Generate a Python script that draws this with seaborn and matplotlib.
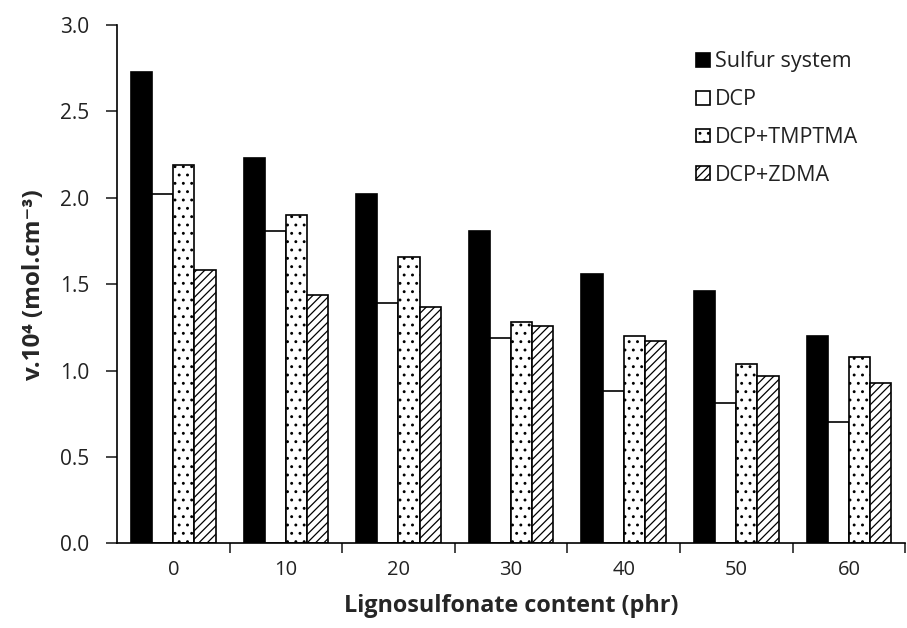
import matplotlib
matplotlib.use("Agg")
import matplotlib.pyplot as plt
import seaborn as sns
import pandas as pd

categories = ["0", "10", "20", "30", "40", "50", "60"]
series = ["Sulfur system", "DCP", "DCP+TMPTMA", "DCP+ZDMA"]
sulfur = [2.73, 2.23, 2.02, 1.81, 1.56, 1.46, 1.20]
dcp = [2.02, 1.81, 1.39, 1.19, 0.88, 0.81, 0.70]
tmptma = [2.19, 1.90, 1.66, 1.28, 1.20, 1.04, 1.08]
zdma = [1.58, 1.44, 1.37, 1.26, 1.17, 0.97, 0.93]
yticks = [0.0, 0.5, 1.0, 1.5, 2.0, 2.5, 3.0]

rows = []
for name, vals in zip(series, [sulfur, dcp, tmptma, zdma]):
    for c, v in zip(categories, vals):
        rows.append({"content": c, "series": name, "value": v})
df = pd.DataFrame(rows)

sns.set_style("white")
plt.rcParams['font.family'] = ['Open Sans', 'DejaVu Sans']
plt.rcParams['hatch.linewidth'] = 0.9

fig = plt.figure(figsize=(9.07, 6.28), dpi=100)
ax = fig.add_axes([0.129, 0.135, 0.869, 0.825])

sns.barplot(data=df, x="content", y="value", hue="series", order=categories,
            hue_order=series, width=0.75, ax=ax, legend=False, saturation=1,
            edgecolor="black", linewidth=1.2)

faces = ["black", "white", "white", "white"]
hatches = [None, None, "..", "////"]
for cont, fc, h in zip(ax.containers, faces, hatches):
    for p in cont:
        p.set_facecolor(fc)
        p.set_edgecolor("black")
        p.set_linewidth(1.2)
        if h:
            p.set_hatch(h)

ax.set_ylim(0, 3.0)
ax.set_xlim(-0.5, len(categories) - 0.5)
ax.set_yticks(yticks)
ax.set_yticklabels([f"{t:.1f}" for t in yticks], fontsize=15, color="#222222")
ax.set_xticks(range(len(categories)))
ax.set_xticklabels(categories, fontsize=14.5, color="#222222")
ax.tick_params(axis="x", length=0, pad=12)
ax.set_xticks([i + 0.5 for i in range(len(categories))], minor=True)
ax.tick_params(axis="x", which="minor", length=7, width=1.2, direction="out", bottom=True)
ax.tick_params(axis="y", length=8, width=1.2, direction="out", left=True, pad=12)

for s in ["top", "right"]:
    ax.spines[s].set_visible(False)
for s in ["left", "bottom"]:
    ax.spines[s].set_color("black")
    ax.spines[s].set_linewidth(1.2)

ax.set_xlabel("Lignosulfonate content (phr)", fontsize=16.8, fontweight="bold", labelpad=10)
ax.set_ylabel("v.10⁴ (mol.cm⁻³)", fontsize=17.5, fontweight="bold", labelpad=10)

leg = ax.legend(handles=list(ax.containers), labels=series, loc="upper left",
                bbox_to_anchor=(0.767, 0.918), bbox_transform=fig.transFigure,
                frameon=False, fontsize=15.5, borderaxespad=0, borderpad=0,
                handlelength=0.65, handleheight=0.6, handletextpad=0.25,
                labelspacing=0.78)
for t in leg.get_texts():
    t.set_color("#222222")

fig.savefig("out.png", dpi=100)
